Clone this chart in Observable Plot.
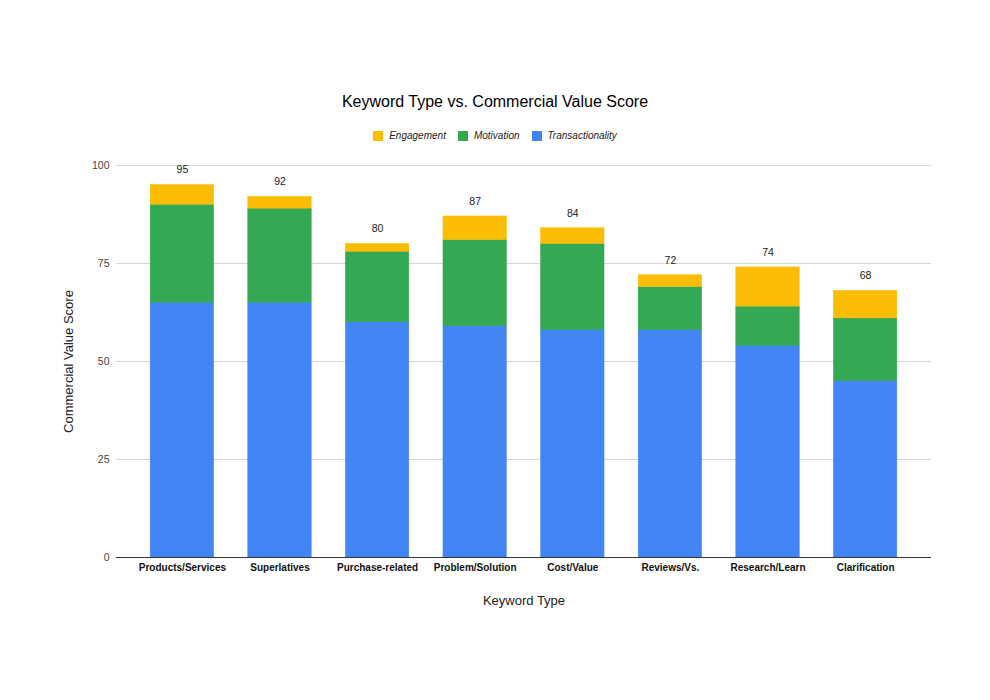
<!DOCTYPE html>
<html>
<head>
<meta charset="utf-8">
<script src="https://cdn.jsdelivr.net/npm/d3@7"></script>
<script src="https://cdn.jsdelivr.net/npm/@observablehq/plot@0.6"></script>
<style>
  body { margin: 0; background: white; font-family: "Liberation Sans", Arial, sans-serif; }
  #wrap { position: relative; width: 990px; height: 700px; }
  #title { position: absolute; top: 93px; left: 0; width: 990px; text-align: center; font-size: 16px; color: #000; }
  #legend { position: absolute; top: 130px; left: 0; width: 990px; display: flex; justify-content: center; gap: 12px; font-size: 10px; font-style: italic; color: #222; }
  .item { display: flex; align-items: center; gap: 6px; }
  .sw { width: 10px; height: 10px; display: inline-block; }
  #chart { position: absolute; top: 0; left: 0; }
</style>
</head>
<body>
<div id="wrap">
  <div id="chart"></div>
  <div id="title">Keyword Type vs. Commercial Value Score</div>
  <div id="legend"></div>
</div>
<script>
const categories = ["Products/Services", "Superlatives", "Purchase-related", "Problem/Solution", "Cost/Value", "Reviews/Vs.", "Research/Learn", "Clarification"];
const transactionality = [65, 65, 60, 59, 58, 58, 54, 45];
const motivation = [25, 24, 18, 22, 22, 11, 10, 16];
const engagement = [5, 3, 2, 6, 4, 3, 10, 7];
const totals = [95, 92, 80, 87, 84, 72, 74, 68];
const seriesNames = ["Transactionality", "Motivation", "Engagement"];
const seriesColors = ["#4285F4", "#34A853", "#FBBC04"];
const legendOrder = ["Engagement", "Motivation", "Transactionality"];
const yTicks = [0, 25, 50, 75, 100];

const seriesValues = [transactionality, motivation, engagement];
const data = categories.flatMap((c, i) =>
  seriesNames.map((s, k) => ({cat: c, series: s, value: seriesValues[k][i]}))
);
const totalsData = categories.map((c, i) => ({cat: c, total: totals[i]}));

const chart = Plot.plot({
  width: 990,
  height: 700,
  marginTop: 165,
  marginBottom: 143,
  marginLeft: 116,
  marginRight: 59,
  style: {fontFamily: "'Liberation Sans', Arial, sans-serif", fontSize: "11px", color: "#222", background: "white"},
  x: {domain: categories, padding: 0.35, round: false, label: null},
  y: {domain: [0, 100], label: null},
  color: {domain: seriesNames, range: seriesColors},
  marks: [
    Plot.ruleY(yTicks.filter(d => d > 0), {stroke: "#d6d6d6", strokeWidth: 1}),
    Plot.barY(data, {x: "cat", y: "value", fill: "series", stroke: "series", strokeWidth: 0.5, order: seriesNames}),
    Plot.ruleY([0], {stroke: "#333", strokeWidth: 1}),
    Plot.axisY({ticks: yTicks, tickSize: 0, tickPadding: 7, fontSize: 10.5, fill: "#444", label: null}),
    Plot.axisX({tickSize: 0, tickPadding: 6, fontSize: 10, fontWeight: "bold", fill: "#111", label: null}),
    Plot.text(totalsData, {x: "cat", y: "total", text: d => String(d.total), dy: -15, fontSize: 10.5, fill: "#222"}),
    Plot.text(["Commercial Value Score"], {frameAnchor: "left", rotate: -90, dx: -48, textAnchor: "middle", fontSize: 13, fill: "#222"}),
    Plot.text(["Keyword Type"], {frameAnchor: "bottom", dy: 43, lineAnchor: "middle", fontSize: 13, fill: "#222"})
  ]
});
document.getElementById("chart").appendChild(chart);

const legend = document.getElementById("legend");
legendOrder.forEach(name => {
  const item = document.createElement("div");
  item.className = "item";
  const sw = document.createElement("span");
  sw.className = "sw";
  sw.style.background = seriesColors[seriesNames.indexOf(name)];
  const label = document.createElement("span");
  label.textContent = name;
  item.appendChild(sw);
  item.appendChild(label);
  legend.appendChild(item);
});
</script>
</body>
</html>
